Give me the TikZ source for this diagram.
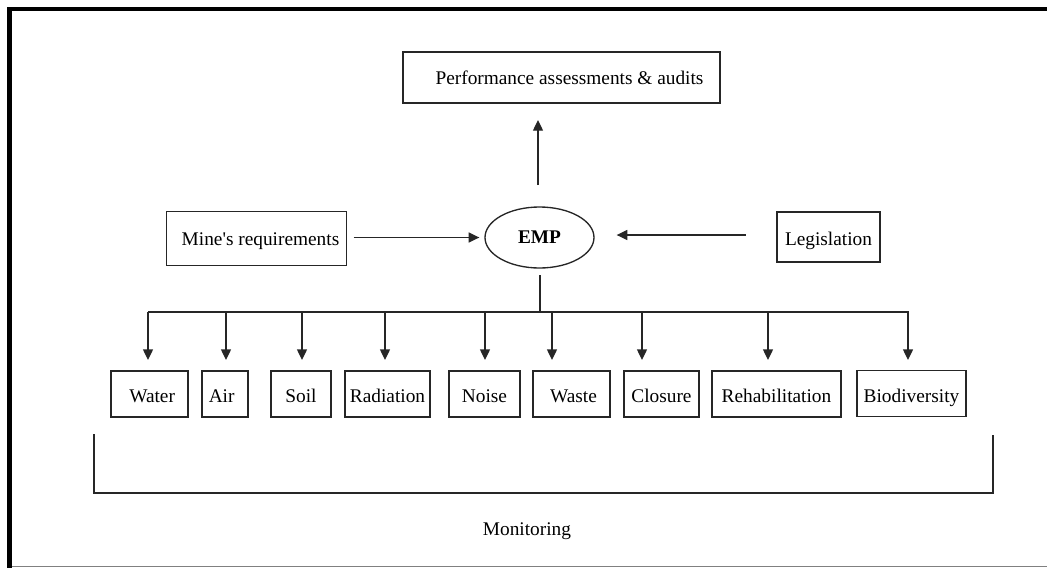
\documentclass[tikz,border=0pt]{standalone}
\usepackage{fontspec}
\setmainfont{Liberation Serif}
\usetikzlibrary{arrows.meta,shapes.geometric}
\begin{document}
\begin{tikzpicture}[x=0.75pt,y=-0.75pt,
  font=\fontsize{14.5}{17}\selectfont,
  box/.style={draw=black!85, line width=1pt, rectangle, inner sep=0pt},
  ell/.style={draw=black!85, line width=1pt, ellipse, inner sep=0pt, minimum width=81.75pt, minimum height=45.75pt},
  conn/.style={draw=black!85, line width=1pt},
  arr/.style={conn, -{Triangle[length=8pt,width=7.5pt]}},
  frameline/.style={fill=black}]
\useasboundingbox (0,0) rectangle (1047,568);
% outer frame
\fill[frameline] (7,7) rectangle (1047,11);
\fill[frameline] (7,7) rectangle (12,568);
\draw[black!50, line width=0.8pt] (12,566.5) -- (1047,566.5);
% top nodes
\node[box, minimum width=237.75pt, minimum height=38.25pt, text height=10.2pt, text depth=0pt] (perf) at (561.5,77.5) {\hspace*{12pt}Performance assessments \& audits};
\node[ell, text height=8.8pt, text depth=0pt] (emp) at (539.5,237.5) {\textbf{EMP}};
\node[box, minimum width=135pt, minimum height=40.5pt, text height=9.8pt, text depth=0pt] (mine) at (256.5,238.5) {\hspace*{6pt}Mine\textquotesingle s requirements};
\node[box, minimum width=77.25pt, minimum height=37.5pt, text height=12pt, text depth=0pt] (leg) at (828.5,237) {Legislation};
% bottom nodes
\tikzset{bb/.style={box, minimum height=34.5pt, text height=13pt, text depth=0pt}}
\node[bb, minimum width=57.75pt] (water) at (149.5,394) {\hspace*{4pt}Water};
\node[bb, minimum width=34.5pt] (air) at (225,394) {Air\hspace*{5pt}};
\node[bb, minimum width=45pt] (soil) at (301,394) {Soil};
\node[bb, minimum width=63.75pt] (rad) at (387.5,394) {Radiation};
\node[bb, minimum width=53.25pt] (noise) at (484.5,394) {Noise};
\node[bb, minimum width=57.75pt] (waste) at (571.5,394) {\hspace*{3pt}Waste};
\node[bb, minimum width=56.25pt] (closure) at (661.5,394) {Closure};
\node[bb, minimum width=96.75pt] (rehab) at (776.5,394) {Rehabilitation};
\node[bb, minimum width=81.75pt] (bio) at (911.5,393.5) {Biodiversity};
\node[anchor=base] (mon) at (527,535) {Monitoring};
% connectors
\coordinate (upT) at (538,185);
\coordinate (upH) at (538,120);
\draw[arr] (upT) -- (upH);
\draw[arr, shorten <=4.9pt, shorten >=3.75pt] (mine.east |- emp.west) -- (emp.west);
\draw[arr, shorten <=23pt, shorten >=16.5pt] (leg.west |- 0,235) -- (emp.east |- 0,235);
\coordinate (stem) at (540,275);
\coordinate (barL) at (148,312);
\coordinate (barR) at (909,312);
\draw[conn] (stem) -- (stem |- barL);
\draw[conn] (barL) -- (barR);
\foreach \x/\n in {148/water,226/air,302/soil,385/rad,485/noise,552/waste,642/closure,768/rehab,908/bio}{
  \coordinate (t\n) at (\x,360);
  \draw[arr] (\x,312) -- (t\n);
}
% monitoring bracket
\draw[conn] (94,434) -- (94,493) -- (993,493) -- (993,435);
\end{tikzpicture}
\end{document}
